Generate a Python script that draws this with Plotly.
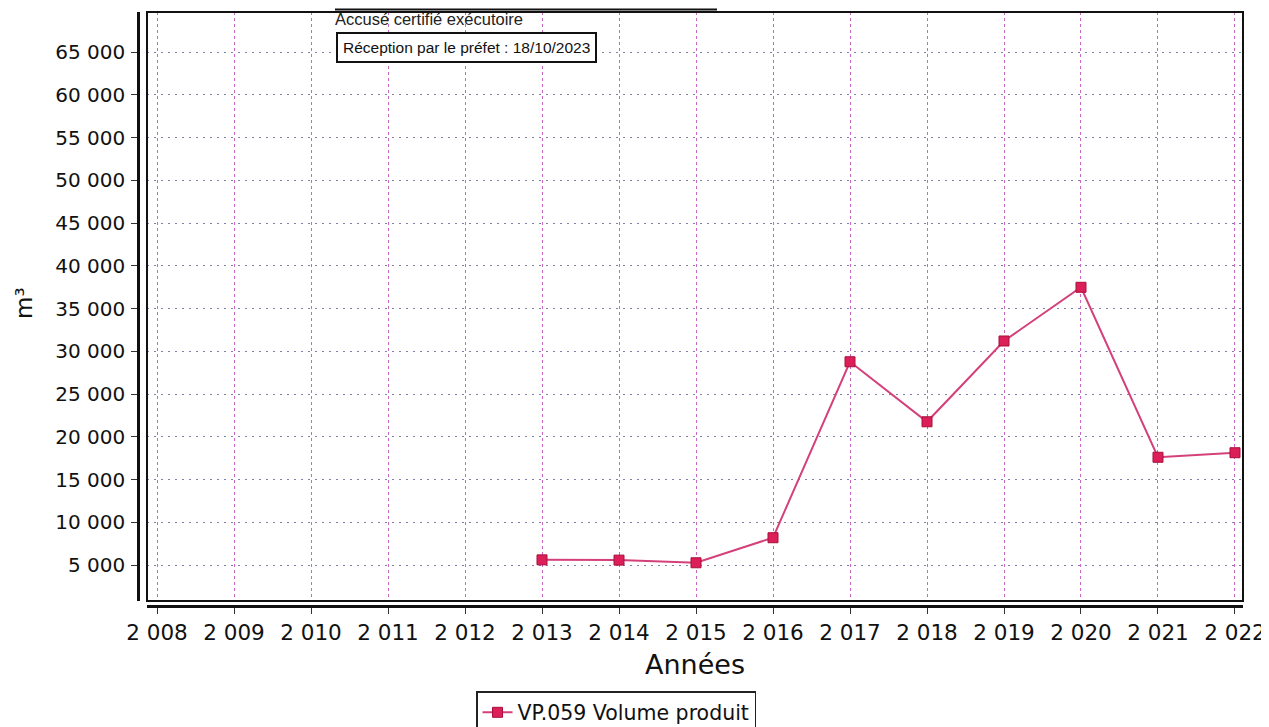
import plotly.graph_objects as go

years = [2013, 2014, 2015, 2016, 2017, 2018, 2019, 2020, 2021, 2022]
volumes = [5600, 5570, 5260, 8190, 28770, 21750, 31200, 37480, 17600, 18130]
x_ticks = list(range(2008, 2023))
y_ticks = list(range(5000, 65001, 5000))
series_name = "VP.059 Volume produit"
x_title = "Années"
y_title = "m³"
stamp_1 = "Accusé certifié exécutoire"
stamp_2 = "Réception par le préfet : 18/10/2023"

OFF = 8                      # page body margin
W, H = 1269 - OFF, 727 - OFF
L, R, T, B = 138, 1243, 12, 606   # screen pixel bounds (axis lines)
pw, ph = R - L, B - T
def px(x):
    return (x - L) / pw
def py(y):
    return (B - y) / ph

font = "DejaVu Sans"

fig = go.Figure()
fig.add_trace(go.Scatter(
    x=years, y=volumes, mode="lines+markers", name=series_name,
    line=dict(color="#d4407a", width=2),
    marker=dict(symbol="square", size=10, color="#dc1f58",
                line=dict(color="#a8103c", width=1)),
))

fig.update_layout(
    width=W, height=H,
    margin=dict(l=L - OFF, r=W - (R - OFF), t=T - OFF, b=H - (B - OFF),
                autoexpand=False),
    paper_bgcolor="white", plot_bgcolor="white",
    separators=", ",
    font=dict(family=font, color="#1a1a1a"),
    showlegend=True,
    legend=dict(x=px(476), y=py(691), xanchor="left", yanchor="top",
                bordercolor="#222", borderwidth=1.5, bgcolor="white",
                font=dict(size=20.5, family=font, color="#111"), itemwidth=30,
                tracegroupgap=0),
    xaxis=dict(domain=[px(147), 1], anchor="free", position=0,
               range=[2007.87, 2022.104], tickvals=x_ticks, tickformat=",d",
               showline=True, linecolor="#111", linewidth=2.5,
               ticks="outside", ticklen=6, tickcolor="#333",
               tickfont=dict(size=21.5, family=font, color="#111"),
               showgrid=True, gridcolor="#cc66c4", griddash="3px,3px", gridwidth=1,
               zeroline=False),
    yaxis=dict(domain=[py(601), 1], anchor="free", position=0,
               range=[789, 69678], tickvals=y_ticks, tickformat=",d",
               showline=True, linecolor="#111", linewidth=2.5,
               ticks="outside", ticklen=6, tickcolor="#333",
               ticklabelstandoff=2,
               tickfont=dict(size=20, family=font, color="#111"),
               showgrid=True, gridcolor="#8080a8", griddash="2px,5px", gridwidth=1,
               zeroline=False),
)

# plot box
fig.add_shape(type="rect", xref="paper", yref="paper",
              x0=px(147), x1=1, y0=py(601), y1=1,
              line=dict(color="#111", width=2), layer="above")

# titles
fig.add_annotation(x=px(24), y=py(303), xref="paper", yref="paper",
                   xanchor="center", yanchor="middle",
                   text=y_title, textangle=-90, showarrow=False,
                   font=dict(size=23, family=font, color="#111"))
fig.add_annotation(x=px(695), y=py(664), xref="paper", yref="paper",
                   xanchor="center", yanchor="middle",
                   text=x_title, showarrow=False,
                   font=dict(size=27, family=font, color="#111"))

# stamp overlay
fig.add_shape(type="line", xref="paper", yref="paper",
              x0=px(335), x1=px(717), y0=py(9.5), y1=py(9.5),
              line=dict(color="#111", width=2))
fig.add_annotation(x=px(333), y=py(19), xref="paper", yref="paper",
                   xanchor="left", yanchor="middle",
                   text=stamp_1, showarrow=False,
                   font=dict(size=16.5, family="Liberation Sans", color="#222"))
fig.add_annotation(x=px(466), y=py(47), xref="paper", yref="paper",
                   xanchor="center", yanchor="middle",
                   text=stamp_2, showarrow=False,
                   bgcolor="white", bordercolor="#111", borderwidth=2, borderpad=5,
                   font=dict(size=15.5, family="Liberation Sans", color="#111"))

fig.write_html("out.html")
